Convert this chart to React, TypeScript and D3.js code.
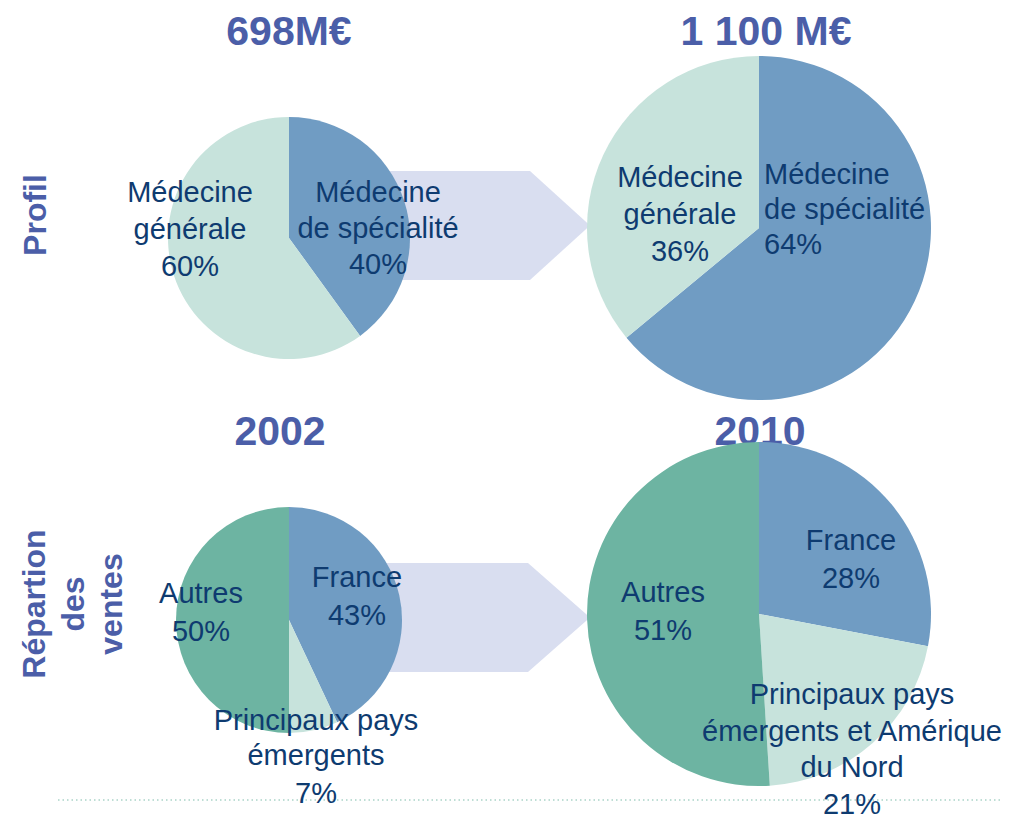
import React, { useRef, useEffect } from "react";
import * as d3 from "d3";

// data
const profil2002 = [
  { name: "spec", value: 40 },
  { name: "gen", value: 60 },
];
const profil2010 = [
  { name: "spec", value: 64 },
  { name: "gen", value: 36 },
];
const ventes2002 = [
  { name: "france", value: 43 },
  { name: "emerg", value: 7 },
  { name: "autres", value: 50 },
];
const ventes2010 = [
  { name: "france", value: 28 },
  { name: "emerg", value: 21 },
  { name: "autres", value: 51 },
];
const titles = ["698M€", "1 100 M€", "2002", "2010"];

const colors = {
  spec: "#709cc3",
  gen: "#c7e3dc",
  france: "#709cc3",
  emerg: "#c7e3dc",
  autres: "#6db4a2",
};

const TITLE = "#4b5ea8";
const LABEL = "#0e3b70";
const FONT = "Liberation Sans, Arial, sans-serif";

const App = () => {
  const ref = useRef(null);

  useEffect(() => {
    const svg = d3.select(ref.current);
    svg.selectAll("*").remove();

    const pie = d3
      .pie()
      .sort(null)
      .value((d) => d.value);

    // dotted line at bottom
    svg
      .append("line")
      .attr("x1", 58)
      .attr("x2", 1000)
      .attr("y1", 800)
      .attr("y2", 800)
      .attr("stroke", "#a9d3c8")
      .attr("stroke-width", 1.5)
      .attr("stroke-dasharray", "1.5,3");

    // arrows
    const arrow = (top, bottom, xl, xd, xp) => {
      const mid = (top + bottom) / 2;
      svg
        .append("path")
        .attr(
          "d",
          `M${xl},${top}L${xd},${top}L${xp},${mid}L${xd},${bottom}L${xl},${bottom}Z`
        )
        .attr("fill", "#d9def0");
    };
    arrow(171, 280, 360, 530, 590);
    arrow(563, 672, 360, 528, 590);

    // titles
    const titlePos = [
      [289, 45],
      [766, 45],
      [280, 445],
      [760, 445],
    ];
    titles.forEach((t, i) => {
      svg
        .append("text")
        .attr("x", titlePos[i][0])
        .attr("y", titlePos[i][1])
        .attr("text-anchor", "middle")
        .attr("font-family", FONT)
        .attr("font-weight", "bold")
        .attr("font-size", 41)
        .attr("fill", TITLE)
        .text(t);
    });

    // row labels
    const rowLabel = (x, y, t) => {
      svg
        .append("text")
        .attr("transform", `translate(${x},${y}) rotate(-90)`)
        .attr("text-anchor", "middle")
        .attr("dominant-baseline", "central")
        .attr("font-family", FONT)
        .attr("font-weight", "bold")
        .attr("font-size", 32)
        .attr("fill", TITLE)
        .text(t);
    };
    rowLabel(35, 215, "Profil");
    rowLabel(34, 604, "Répartion");
    rowLabel(73, 604, "des");
    rowLabel(111, 604, "ventes");

    // pies
    const drawPie = (data, cx, cy, r) => {
      const arc = d3.arc().innerRadius(0).outerRadius(r);
      svg
        .append("g")
        .attr("transform", `translate(${cx},${cy})`)
        .selectAll("path")
        .data(pie(data))
        .enter()
        .append("path")
        .attr("d", arc)
        .attr("fill", (d) => colors[d.data.name]);
    };
    drawPie(profil2002, 289, 238, 121);
    drawPie(profil2010, 759, 228, 172);
    drawPie(ventes2002, 289, 620, 113);
    drawPie(ventes2010, 759, 614, 172);

    // slice labels
    const label = (x, y, lines, anchor = "middle", step = 37) => {
      const t = svg
        .append("text")
        .attr("text-anchor", anchor)
        .attr("font-family", FONT)
        .attr("font-size", 29)
        .attr("fill", LABEL);
      lines.forEach((l, i) => {
        t.append("tspan")
          .attr("x", x)
          .attr("y", y + i * step)
          .text(l);
      });
    };
    label(190, 202, ["Médecine", "générale", `${profil2002[1].value}%`]);
    label(378, 202, ["Médecine", "de spécialité", `${profil2002[0].value}%`], "middle", 36);
    label(680, 187, ["Médecine", "générale", `${profil2010[1].value}%`]);
    label(764, 184, ["Médecine", "de spécialité", `${profil2010[0].value}%`], "start", 35);
    label(201, 603, ["Autres", `${ventes2002[2].value}%`], "middle", 38);
    label(357, 587, ["France", `${ventes2002[0].value}%`], "middle", 38);
    label(316, 730, ["Principaux pays", "émergents"], "middle", 35);
    label(316, 803, [`${ventes2002[1].value}%`]);
    label(851, 550, ["France", `${ventes2010[0].value}%`], "middle", 38);
    label(663, 602, ["Autres", `${ventes2010[2].value}%`], "middle", 38);
    label(852, 704, [
      "Principaux pays",
      "émergents et Amérique",
      "du Nord",
      `${ventes2010[1].value}%`,
    ], "middle", 36.5);
  }, []);

  return (
    <svg
      ref={ref}
      width={1021}
      height={816}
      style={{ position: "absolute", left: 0, top: 0, background: "#fff" }}
    />
  );
};

export default App;
